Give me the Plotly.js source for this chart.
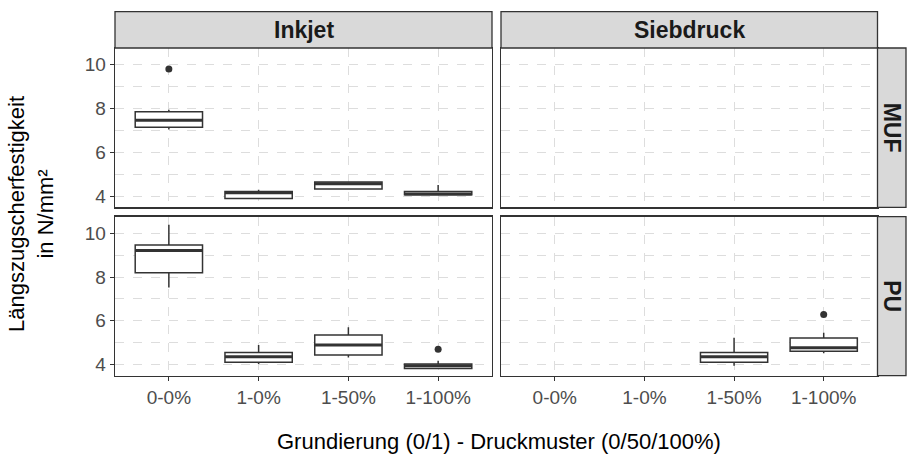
<!DOCTYPE html>
<html>
<head>
<meta charset="utf-8">
<script src="https://cdn.plot.ly/plotly-3.0.1.min.js"></script>
<style>html,body{margin:0;padding:0;background:#fff;}#chart{width:907px;height:454px;}</style>
</head>
<body>
<div id="chart"></div>
<script>
// ---- data ----
const categories = ["0-0%", "1-0%", "1-50%", "1-100%"];
const columns = ["Inkjet", "Siebdruck"];
const rows = ["MUF", "PU"];

// Inkjet / MUF
const inkMufCat    = ["0-0%", "1-0%", "1-50%", "1-100%"];
const inkMufLow    = [7.04, 3.89, 4.33, 4.06];
const inkMufQ1     = [7.14, 3.89, 4.33, 4.06];
const inkMufMed    = [7.46, 4.15, 4.56, 4.10];
const inkMufQ3     = [7.85, 4.21, 4.65, 4.21];
const inkMufHigh   = [7.94, 4.29, 4.65, 4.51];
const inkMufOutCat = ["0-0%"];
const inkMufOut    = [9.80];

// Siebdruck / MUF (no data)
const siebMufCat = [];
const siebMufLow = [], siebMufQ1 = [], siebMufMed = [], siebMufQ3 = [], siebMufHigh = [];
const siebMufOutCat = [], siebMufOut = [];

// Inkjet / PU
const inkPuCat    = ["0-0%", "1-0%", "1-50%", "1-100%"];
const inkPuLow    = [7.52, 4.03, 4.32, 3.82];
const inkPuQ1     = [8.20, 4.11, 4.44, 3.82];
const inkPuMed    = [9.21, 4.36, 4.89, 3.94];
const inkPuQ3     = [9.47, 4.55, 5.35, 4.03];
const inkPuHigh   = [10.39, 4.89, 5.70, 4.17];
const inkPuOutCat = ["1-100%"];
const inkPuOut    = [4.70];

// Siebdruck / PU
const siebPuCat    = ["1-50%", "1-100%"];
const siebPuLow    = [3.94, 4.52];
const siebPuQ1     = [4.11, 4.61];
const siebPuMed    = [4.36, 4.77];
const siebPuQ3     = [4.55, 5.21];
const siebPuHigh   = [5.23, 5.45];
const siebPuOutCat = ["1-100%"];
const siebPuOut    = [6.29];

const yTicks = [4, 6, 8, 10];
const yMinor = [5, 7, 9];

// ---- layout helpers ----
const W = 907, H = 454;
const px = v => v / W;
const py = v => 1 - v / H;
const colPx = [[115, 492], [501, 877.5]];
const rowPx = [[48, 207.3], [216.7, 375.7]];
const BOXW = 0.75;
const ink = "#333333";
const gridC = "#DDDDDD";
const font = "Liberation Sans, Arial, sans-serif";

const panels = [
  {col:0,row:0,cat:inkMufCat,low:inkMufLow,q1:inkMufQ1,med:inkMufMed,q3:inkMufQ3,high:inkMufHigh,oc:inkMufOutCat,o:inkMufOut},
  {col:1,row:0,cat:siebMufCat,low:siebMufLow,q1:siebMufQ1,med:siebMufMed,q3:siebMufQ3,high:siebMufHigh,oc:siebMufOutCat,o:siebMufOut},
  {col:0,row:1,cat:inkPuCat,low:inkPuLow,q1:inkPuQ1,med:inkPuMed,q3:inkPuQ3,high:inkPuHigh,oc:inkPuOutCat,o:inkPuOut},
  {col:1,row:1,cat:siebPuCat,low:siebPuLow,q1:siebPuQ1,med:siebPuMed,q3:siebPuQ3,high:siebPuHigh,oc:siebPuOutCat,o:siebPuOut}
];

const pos = c => categories.indexOf(c) + 1;
const traces = [];
const layout = {
  width: W, height: H,
  margin: {l:0, r:0, t:0, b:0},
  paper_bgcolor: "#fff", plot_bgcolor: "#fff",
  showlegend: false,
  font: {family: font, color: "#4D4D4D"},
  shapes: [], annotations: []
};

panels.forEach((p, i) => {
  const n = i + 1;
  const xa = "x" + (n === 1 ? "" : n), ya = "y" + (n === 1 ? "" : n);
  const xk = "xaxis" + (n === 1 ? "" : n), yk = "yaxis" + (n === 1 ? "" : n);
  // placeholder so every subplot is drawn, even an empty one
  traces.push({type: "scatter", mode: "markers", xaxis: xa, yaxis: ya, x: [null], y: [null], hoverinfo: "skip"});
  if (p.cat.length) {
    traces.push({
      type: "box", xaxis: xa, yaxis: ya,
      x: p.cat.map(pos), q1: p.q1, median: p.med, q3: p.q3,
      lowerfence: p.low, upperfence: p.high,
      width: BOXW, whiskerwidth: 0, boxpoints: false,
      fillcolor: "#ffffff", line: {color: ink, width: 1.5},
      hoverinfo: "skip"
    });
    const mx = [], my = [];
    p.cat.forEach((c, k) => { mx.push(pos(c) - BOXW/2, pos(c) + BOXW/2, null); my.push(p.med[k], p.med[k], null); });
    traces.push({type: "scatter", mode: "lines", xaxis: xa, yaxis: ya, x: mx, y: my,
      line: {color: ink, width: 3}, hoverinfo: "skip"});
  }
  if (p.o.length) {
    traces.push({type: "scatter", mode: "markers", xaxis: xa, yaxis: ya,
      x: p.oc.map(pos), y: p.o, marker: {color: ink, size: 7}, hoverinfo: "skip"});
  }
  const bottom = p.row === 1, left = p.col === 0;
  layout[xk] = {
    domain: [px(colPx[p.col][0]), px(colPx[p.col][1])], anchor: ya,
    range: [0.4, 4.6], tickvals: [1,2,3,4], ticktext: categories,
    showticklabels: bottom, ticks: bottom ? "outside" : "", ticklen: 4, tickcolor: ink,
    tickfont: {size: 19, color: "#4D4D4D", family: font},
    showgrid: true, gridcolor: gridC, griddash: "dash", gridwidth: 1,
    showline: true, mirror: true, linecolor: ink, linewidth: 1.3, zeroline: false, fixedrange: true
  };
  layout[yk] = {
    domain: [py(rowPx[p.row][1]), py(rowPx[p.row][0])], anchor: xa,
    range: [3.49, 10.76], tickvals: yTicks, ticktext: yTicks.map(String),
    showticklabels: left, ticks: left ? "outside" : "", ticklen: 4, tickcolor: ink,
    tickfont: {size: 19, color: "#4D4D4D", family: font},
    showgrid: true, gridcolor: gridC, griddash: "dash", gridwidth: 1,
    minor: {tickvals: yMinor, showgrid: true, gridcolor: gridC, griddash: "dash", gridwidth: 1, ticks: ""},
    showline: true, mirror: true, linecolor: ink, linewidth: 1.3, zeroline: false, fixedrange: true
  };
});

// strips
columns.forEach((c, i) => {
  layout.shapes.push({type: "rect", xref: "paper", yref: "paper",
    x0: px(colPx[i][0]), x1: px(colPx[i][1]), y0: py(48), y1: py(11.7),
    fillcolor: "#D9D9D9", line: {color: ink, width: 1.3}, layer: "above"});
  layout.annotations.push({xref: "paper", yref: "paper", x: px((colPx[i][0] + colPx[i][1]) / 2), y: py(30),
    text: "<b>" + c + "</b>", showarrow: false, xanchor: "center", yanchor: "middle",
    font: {size: 23, color: "#1A1A1A", family: font}});
});
rows.forEach((r, i) => {
  layout.shapes.push({type: "rect", xref: "paper", yref: "paper",
    x0: px(877.5), x1: px(906), y0: py(rowPx[i][1]), y1: py(rowPx[i][0]),
    fillcolor: "#D9D9D9", line: {color: ink, width: 1.3}, layer: "above"});
  layout.annotations.push({xref: "paper", yref: "paper", x: px(892), y: py((rowPx[i][0] + rowPx[i][1]) / 2),
    text: "<b>" + r + "</b>", showarrow: false, textangle: 90, xanchor: "center", yanchor: "middle",
    font: {size: 23, color: "#1A1A1A", family: font}});
});
// axis titles
layout.annotations.push({xref: "paper", yref: "paper", x: px(499), y: py(441),
  text: "Grundierung (0/1) - Druckmuster (0/50/100%)", showarrow: false, xanchor: "center", yanchor: "middle",
  font: {size: 22, color: "#000", family: font}});
layout.annotations.push({xref: "paper", yref: "paper", x: px(31), y: py(214),
  text: "Längszugscherfestigkeit<br>in N/mm²", showarrow: false, textangle: -90, xanchor: "center", yanchor: "middle",
  font: {size: 22, color: "#000", family: font}});

Plotly.newPlot("chart", traces, layout, {displayModeBar: false, staticPlot: true});
</script>
</body>
</html>
